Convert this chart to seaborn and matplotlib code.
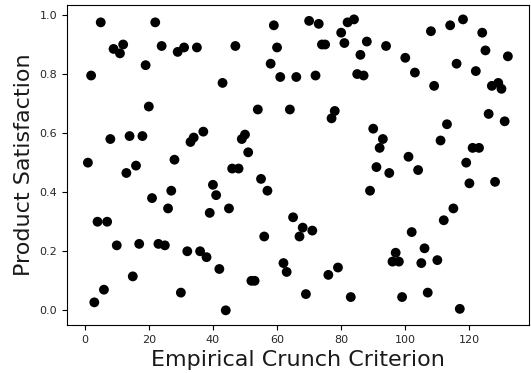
import numpy as np
import pandas as pd
import matplotlib
matplotlib.use("Agg")
import matplotlib.pyplot as plt
import seaborn as sns

# data
crunch = list(range(1, 133))
satisfaction = [
    0.50, 0.795, 0.027, 0.30, 0.975, 0.07, 0.30, 0.58, 0.885, 0.22,
    0.87, 0.90, 0.465, 0.59, 0.115, 0.49, 0.225, 0.59, 0.83, 0.69,
    0.38, 0.975, 0.225, 0.895, 0.22, 0.345, 0.405, 0.51, 0.875, 0.06,
    0.89, 0.20, 0.57, 0.585, 0.89, 0.20, 0.605, 0.18, 0.33, 0.425,
    0.39, 0.14, 0.77, 0.0, 0.345, 0.48, 0.895, 0.48, 0.58, 0.595,
    0.535, 0.10, 0.10, 0.68, 0.445, 0.25, 0.405, 0.835, 0.965, 0.89,
    0.79, 0.16, 0.13, 0.68, 0.315, 0.79, 0.25, 0.28, 0.055, 0.98,
    0.27, 0.795, 0.97, 0.90, 0.90, 0.12, 0.65, 0.675, 0.145, 0.94,
    0.905, 0.975, 0.045, 0.985, 0.80, 0.865, 0.795, 0.91, 0.405, 0.615,
    0.485, 0.55, 0.58, 0.895, 0.465, 0.165, 0.195, 0.165, 0.045, 0.855,
    0.52, 0.265, 0.805, 0.475, 0.16, 0.21, 0.06, 0.945, 0.76, 0.17,
    0.575, 0.305, 0.63, 0.965, 0.345, 0.835, 0.005, 0.985, 0.50, 0.43,
    0.55, 0.81, 0.55, 0.94, 0.88, 0.665, 0.76, 0.435, 0.77, 0.75,
    0.64, 0.86,
]

df = pd.DataFrame({"Empirical Crunch Criterion": crunch,
                   "Product Satisfaction": satisfaction})

fig, ax = plt.subplots(figsize=(5.31, 3.73), dpi=100)
sns.scatterplot(data=df, x="Empirical Crunch Criterion", y="Product Satisfaction",
                color="black", s=50, edgecolor="none", ax=ax)
ax.set_xlabel("Empirical Crunch Criterion", fontsize=16, color="#1a1a1a")
ax.set_ylabel("Product Satisfaction", fontsize=16, color="#1a1a1a")
ax.tick_params(labelsize=8, labelcolor="#262626")
plt.subplots_adjust(left=0.126, right=0.996, top=0.987, bottom=0.129)
plt.savefig("out.png", dpi=100)
